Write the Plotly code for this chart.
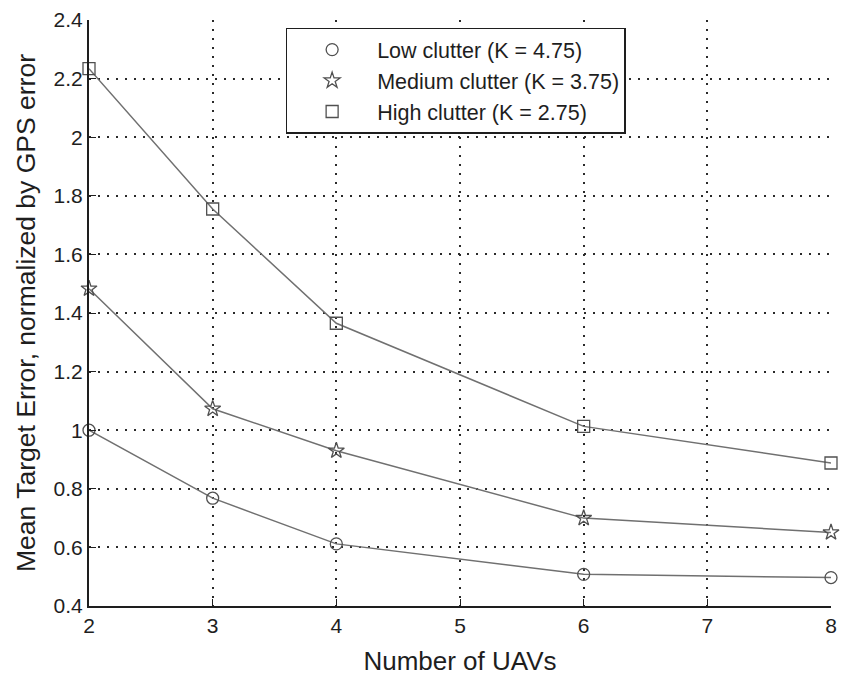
import plotly.graph_objects as go

# Number of UAVs and mean target error (normalized by GPS error)
uavs = [2, 3, 4, 6, 8]
low_clutter = [1.00, 0.768, 0.612, 0.508, 0.497]
medium_clutter = [1.483, 1.073, 0.930, 0.700, 0.651]
high_clutter = [2.234, 1.755, 1.365, 1.013, 0.888]

series_names = ["Low clutter (K = 4.75)", "Medium clutter (K = 3.75)", "High clutter (K = 2.75)"]
series_values = [low_clutter, medium_clutter, high_clutter]
symbols = ["circle-open", "star-open", "square-open"]

x_ticks = [2, 3, 4, 5, 6, 7, 8]
y_ticks = [0.4, 0.6, 0.8, 1.0, 1.2, 1.4, 1.6, 1.8, 2.0, 2.2, 2.4]
y_tick_text = ["0.4", "0.6", "0.8", "1", "1.2", "1.4", "1.6", "1.8", "2", "2.2", "2.4"]

fig = go.Figure()

# connecting lines (kept out of the legend)
for name, vals in zip(series_names, series_values):
    fig.add_trace(go.Scatter(
        x=uavs, y=vals, mode="lines",
        line=dict(color="#707070", width=1.5),
        showlegend=False, hoverinfo="skip",
    ))

# markers (these carry the legend entries)
for name, vals, sym in zip(series_names, series_values, symbols):
    fig.add_trace(go.Scatter(
        x=uavs, y=vals, mode="markers", name=name,
        marker=dict(symbol=sym, size=12, color="#505050",
                    line=dict(width=1.3, color="#505050")),
        cliponaxis=False,
    ))

font_family = "Liberation Sans, Arial, sans-serif"
grid_dash = "2px,7px"

fig.update_layout(
    width=845, height=680,
    margin=dict(l=89, r=8, t=15, b=74),
    paper_bgcolor="white", plot_bgcolor="white",
    font=dict(family=font_family, color="#1e1e1e", size=20),
    legend=dict(
        x=0.265, y=0.987, xanchor="left", yanchor="top",
        bgcolor="white", bordercolor="#1e1e1e", borderwidth=1.5,
        font=dict(size=21.5, color="#1e1e1e"),
        itemwidth=80, tracegroupgap=0,
    ),
    xaxis=dict(
        range=[2, 8], tickvals=x_ticks,
        showgrid=True, gridcolor="#2a2a2a", griddash=grid_dash, gridwidth=1.5,
        showline=True, linecolor="#1e1e1e", linewidth=2,
        ticks="inside", ticklen=7, tickcolor="#1e1e1e",
        tickfont=dict(size=21), zeroline=False,
        title=dict(text="Number of UAVs", font=dict(size=26), standoff=16),
    ),
    yaxis=dict(
        range=[0.4, 2.4], tickvals=y_ticks, ticktext=y_tick_text,
        showgrid=True, gridcolor="#2a2a2a", griddash=grid_dash, gridwidth=1.5,
        showline=True, linecolor="#1e1e1e", linewidth=2,
        ticks="inside", ticklen=7, tickcolor="#1e1e1e",
        tickfont=dict(size=21), zeroline=False,
        title=dict(text="Mean Target Error, normalized by GPS error", font=dict(size=26.5), standoff=10),
    ),
)

fig.write_html("out.html")
